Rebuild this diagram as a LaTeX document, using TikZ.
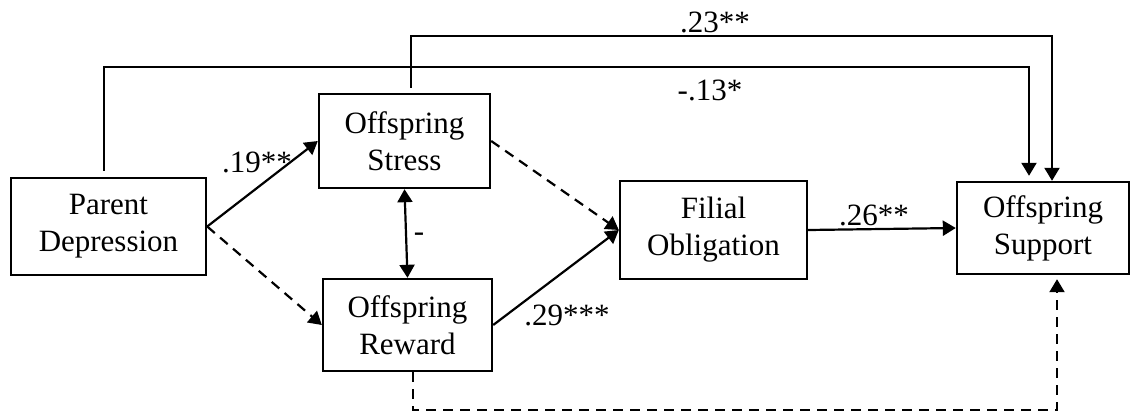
\documentclass[tikz,border=0pt]{standalone}
\usepackage{fontspec}
\setmainfont{Liberation Serif}
\usetikzlibrary{arrows.meta}
\begin{document}
\begin{tikzpicture}[x=0.5pt,y=-0.5pt,
  box/.style={draw,line width=1.2pt,inner sep=0pt,align=center,font=\fontsize{15.5}{18.5}\selectfont},
  lbl/.style={inner sep=0pt,font=\fontsize{15.5}{18.5}\selectfont},
  tip/.tip={Triangle[length=6.5pt,width=7.5pt]},
  conn/.style={line width=1.1pt,-tip},
  dconn/.style={conn,dash pattern=on 5pt off 3.5pt},
  biconn/.style={line width=1.1pt,tip-tip}]
\useasboundingbox (0,0) rectangle (1133,418);

\node[box,minimum width=97.5pt,minimum height=48.5pt] (P) at (108.5,226.5) {Parent\\Depression};
\node[box,minimum width=85.5pt,minimum height=47pt] (S) at (404.5,141) {Offspring\\Stress};
\node[box,minimum width=84.5pt,minimum height=46pt] (R) at (407.5,325) {Offspring\\Reward};
\node[box,minimum width=93.5pt,minimum height=49pt] (F) at (713.5,230) {Filial\\Obligation};
\node[box,minimum width=86pt,minimum height=46pt] (SU) at (1043,228) {Offspring\\Support};

\coordinate (c1) at (104,67);
\coordinate (c2) at (1029,67);
\coordinate (c3) at (411,36);
\coordinate (c4) at (1052,36);
\coordinate (c5) at (413,410);
\coordinate (c6) at (1057,410);

\draw[conn] (P.east) -- (S.west);
\draw[dconn] (P.east) -- (R.west);
\draw[biconn] (S.south) -- (R.north);
\draw[dconn] (S.east) -- (F.west);
\draw[conn] (R.east) -- (F.west);
\draw[conn] (F.east) -- (SU.west);

\draw[conn,shorten <=3pt,shorten >=2.5pt] (P.north -| c1) -- (c1) -- (c2) -- (c2 |- SU.north);
\draw[conn,shorten <=2.5pt] (S.north -| c3) -- (c3) -- (c4) -- (c4 |- SU.north);
\draw[dconn,shorten >=2pt] (R.south -| c5) -- (c5) -- (c6) -- (c6 |- SU.south);

\node[lbl] (l19) at (257,162) {.19**};
\node[lbl] (l13) at (710,90) {-.13*};
\node[lbl] (l23) at (715,22) {.23**};
\node[lbl] (lm) at (419,237) {-};
\node[lbl] (l29) at (567,315) {.29***};
\node[lbl] (l26) at (874,215) {.26**};
\end{tikzpicture}
\end{document}
